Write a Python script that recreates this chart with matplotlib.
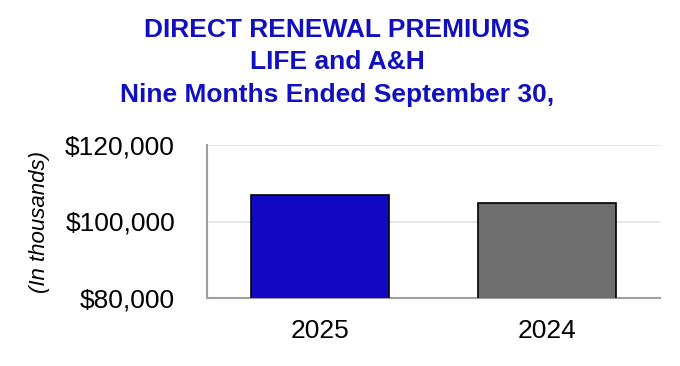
import matplotlib
matplotlib.use("Agg")
import matplotlib.pyplot as plt
from matplotlib.ticker import FuncFormatter

categories = ["2025", "2024"]
values = [106900, 104900]
bar_colors = ["#1208C4", "#6E6E6E"]
yticks = [80000, 100000, 120000]
title_lines = ["DIRECT RENEWAL PREMIUMS", "LIFE and A&H", "Nine Months Ended September 30,"]

plt.rcParams['font.family'] = ['Liberation Sans', 'DejaVu Sans']

fig = plt.figure(figsize=(6.8, 3.66), dpi=100)
ax = fig.add_axes([207/680, 1-298/366, 453/680, 153/366])

x = range(len(categories))
ax.bar(x, values, width=0.61, color=bar_colors, edgecolor="black", linewidth=1.2, zorder=3)
ax.set_xlim(-0.5, 1.5)
ax.set_ylim(80000, 120000)
ax.set_yticks(yticks)
ax.yaxis.set_major_formatter(FuncFormatter(lambda v, p: f"${v:,.0f}"))
ax.set_xticks(list(x))
ax.set_xticklabels(categories)
ax.tick_params(axis='both', length=0, labelsize=19, colors="black")
ax.tick_params(axis='y', pad=23)
ax.tick_params(axis='x', pad=15)
ax.grid(axis='y', color="#E0E0E0", linewidth=1.2, zorder=0)
for s in ["top", "right"]:
    ax.spines[s].set_visible(False)
for s in ["left", "bottom"]:
    ax.spines[s].set_color("#A0A0A0")
    ax.spines[s].set_linewidth(1.5)

fig.text(40/680, 1-222/366, "(In thousands)", rotation=90, fontsize=16, style='italic',
         ha='center', va='center')

ys = [30, 62, 95]
for t, y in zip(title_lines, ys):
    fig.text(337/680, 1-y/366, t, ha='center', va='center', fontsize=19, fontweight='bold', color="#1010C0")

fig.savefig("out.png", dpi=100)
